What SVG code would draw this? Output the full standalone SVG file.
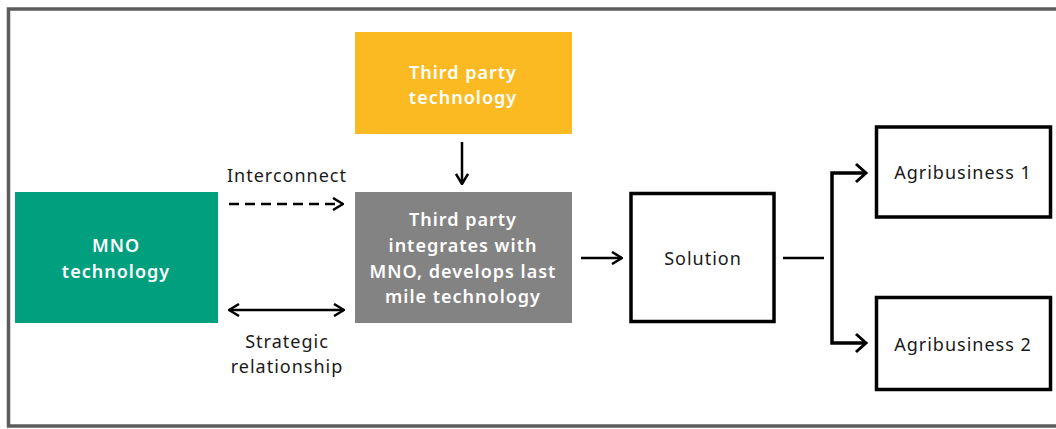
<svg xmlns="http://www.w3.org/2000/svg" width="1056" height="429" viewBox="0 0 1056 429">
<style>
.lbl{font-family:"Noto Sans","Liberation Sans",sans-serif;font-size:18px;letter-spacing:1px;fill:#1a1a1a;text-anchor:middle}
.wt{font-family:"Noto Sans","Liberation Sans",sans-serif;font-size:18px;font-weight:600;letter-spacing:1px;fill:#ffffff;text-anchor:middle}
.box{fill:#ffffff;stroke:#000;stroke-width:3.5}
.ln{fill:none;stroke:#000;stroke-width:2.5}
.ln2{fill:none;stroke:#000;stroke-width:3.5}
</style>
<defs>
<marker id="ah" viewBox="0 0 12 14" refX="11" refY="7" markerWidth="12" markerHeight="14" markerUnits="userSpaceOnUse" orient="auto-start-reverse">
<path d="M1,1 L11,7 L1,13" fill="none" stroke="#000" stroke-width="2.5"/>
</marker>
</defs>
<rect x="0" y="0" width="1056" height="429" fill="#ffffff"/>
<rect x="8.5" y="9" width="1060" height="417" fill="none" stroke="#5c5c5c" stroke-width="3.5"/>
<g id="mno">
<rect x="15" y="192" width="203" height="131" fill="#00a07e"/>
<text class="wt" x="116" y="252">MNO</text>
<text class="wt" x="116" y="278">technology</text>
</g>
<g id="thirdtech">
<rect x="355" y="32" width="217" height="102" fill="#fbba22"/>
<text class="wt" x="463" y="79">Third party</text>
<text class="wt" x="463" y="104">technology</text>
</g>
<g id="thirdint">
<rect x="355" y="192" width="217" height="131" fill="#838383"/>
<text class="wt" x="463" y="226">Third party</text>
<text class="wt" x="463" y="252">integrates with</text>
<text class="wt" x="463" y="278">MNO, develops last</text>
<text class="wt" x="463" y="303">mile technology</text>
</g>
<g id="solution">
<rect class="box" x="631" y="193.5" width="143" height="128"/>
<text class="lbl" x="703" y="265">Solution</text>
</g>
<g id="agri1">
<rect class="box" x="876.5" y="127" width="174" height="90"/>
<text class="lbl" x="963" y="179">Agribusiness 1</text>
</g>
<g id="agri2">
<rect class="box" x="876.5" y="297.5" width="174" height="92"/>
<text class="lbl" x="963" y="351">Agribusiness 2</text>
</g>
<g id="connectors">
<line class="ln" x1="462" y1="142" x2="462" y2="184" marker-end="url(#ah)"/>
<line class="ln" x1="229" y1="204" x2="343" y2="204" stroke-dasharray="10,6" marker-end="url(#ah)"/>
<line class="ln" x1="229" y1="310" x2="344" y2="310" marker-start="url(#ah)" marker-end="url(#ah)"/>
<line class="ln" x1="581" y1="258" x2="622" y2="258" marker-end="url(#ah)"/>
<line class="ln" x1="783" y1="258" x2="824" y2="258"/>
<path class="ln2" d="M866,173 H832 V343 H866"/>
<path d="M856,164 L866,173 L856,182 M856,334 L866,343 L856,352" fill="none" stroke="#000" stroke-width="3"/>
<text class="lbl" x="287" y="182">Interconnect</text>
<text class="lbl" x="287" y="348">Strategic</text>
<text class="lbl" x="287" y="373">relationship</text>
</g>
</svg>
